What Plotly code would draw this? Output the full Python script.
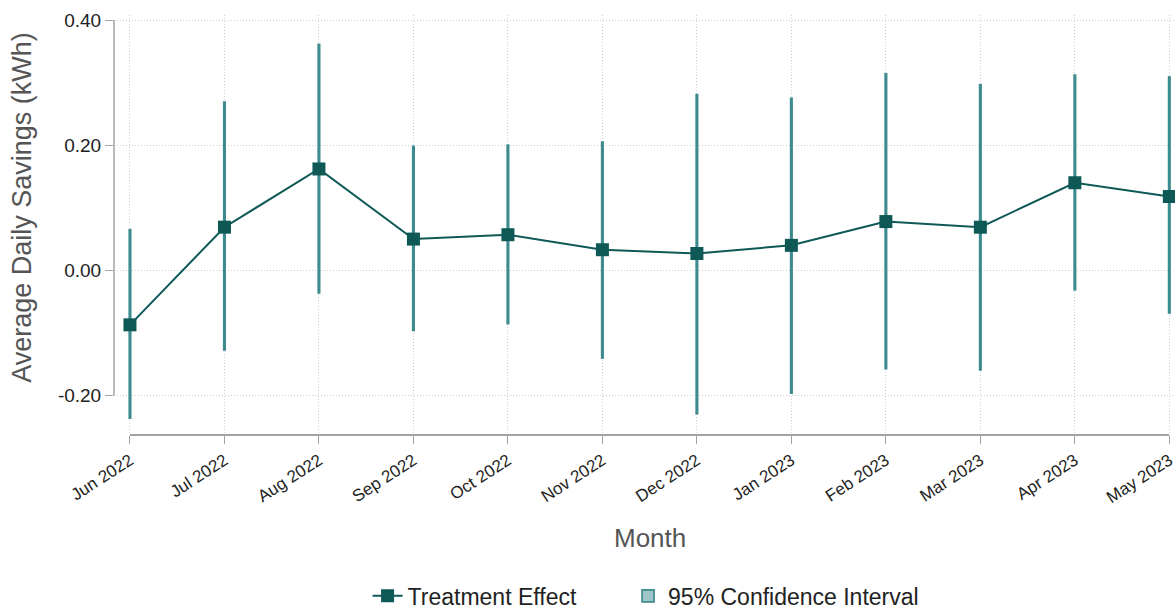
import plotly.graph_objects as go

# Monthly treatment effect estimates with 95% confidence bounds (kWh/day)
months = ["Jun 2022", "Jul 2022", "Aug 2022", "Sep 2022", "Oct 2022", "Nov 2022",
          "Dec 2022", "Jan 2023", "Feb 2023", "Mar 2023", "Apr 2023", "May 2023"]
effect = [-0.087, 0.069, 0.162, 0.050, 0.057, 0.033, 0.027, 0.040, 0.078, 0.069, 0.140, 0.118]
ci_low = [-0.236, -0.127, -0.036, -0.096, -0.085, -0.140, -0.229, -0.196, -0.157, -0.159, -0.031, -0.068]
ci_high = [0.065, 0.269, 0.361, 0.198, 0.200, 0.205, 0.281, 0.275, 0.314, 0.297, 0.312, 0.309]

y_ticks = [-0.2, 0.0, 0.2, 0.4]
y_ticktext = ["-0.20", "0.00", "0.20", "0.40"]

FONT = "Liberation Sans, Arial, sans-serif"
DARK = "#0e5956"
CI = "#3e8b8f"
AXIS = "#a3a3a3"
GRID = "#cfcfcf"

x = list(range(len(months)))

fig = go.Figure()

# Confidence intervals drawn as thin floating bars (outline gives the solid stroke)
fig.add_trace(go.Bar(
    x=x,
    y=[h - l for h, l in zip(ci_high, ci_low)],
    base=ci_low,
    width=0.015,
    marker=dict(color="rgba(62,139,143,0.5)", line=dict(color=CI, width=1.7)),
    name="95% Confidence Interval",
    legend="legend2",
    hoverinfo="skip",
))

# Point estimates
fig.add_trace(go.Scatter(
    x=x,
    y=effect,
    mode="lines+markers",
    line=dict(color=DARK, width=2),
    marker=dict(symbol="square", size=13, color=DARK),
    name="Treatment Effect",
    legend="legend",
    cliponaxis=False,
))

# Axis lines spanning only the labelled range
fig.add_shape(type="line", xref="paper", yref="y", x0=0, x1=0,
              y0=y_ticks[0], y1=y_ticks[-1], line=dict(color=AXIS, width=1.5))
fig.add_shape(type="line", xref="x", yref="paper", x0=x[0], x1=x[-1],
              y0=0, y1=0, line=dict(color=AXIS, width=2))

fig.add_annotation(text="Average Daily Savings (kWh)", textangle=-90,
                   xref="paper", x=0, xshift=-92, xanchor="center",
                   yref="y", y=(y_ticks[0] + y_ticks[-1]) / 2, yanchor="middle",
                   showarrow=False, font=dict(family=FONT, size=27, color="#555555"))
fig.add_annotation(text="Month",
                   xref="x", x=(x[0] + x[-1]) / 2, xanchor="center",
                   yref="paper", y=0, yshift=-103, yanchor="middle",
                   showarrow=False, font=dict(family=FONT, size=26, color="#555555"))

legend_style = dict(orientation="h", yanchor="middle", y=-0.383, xanchor="left",
                    font=dict(family=FONT, size=23, color="#222222"),
                    itemwidth=30, bgcolor="rgba(0,0,0,0)")

fig.update_layout(
    width=1175, height=611,
    margin=dict(l=114, r=0, t=15, b=176, autoexpand=False),
    paper_bgcolor="white", plot_bgcolor="white",
    font=dict(family=FONT, color="#222222"),
    showlegend=True,
    legend=dict(x=0.239, **legend_style),
    legend2=dict(x=0.4845, **legend_style),
    xaxis=dict(
        range=[-0.169, 11.06],
        tickvals=x, ticktext=months, tickangle=-33,
        ticks="outside", ticklen=8, tickcolor=AXIS, tickwidth=1.2,
        tickfont=dict(family=FONT, size=17, color="#222222"),
        ticklabeloverflow="allow",
        showgrid=True, gridcolor=GRID, griddash="1px,2px", gridwidth=1,
        showline=False, zeroline=False, fixedrange=True,
    ),
    yaxis=dict(
        range=[-0.263, 0.408],
        tickvals=y_ticks, ticktext=y_ticktext,
        ticks="outside", ticklen=8, tickcolor=AXIS, tickwidth=1.2,
        tickfont=dict(family=FONT, size=19, color="#222222"),
        showgrid=True, gridcolor=GRID, griddash="1px,2px", gridwidth=1,
        showline=False, zeroline=False, fixedrange=True,
    ),
)

fig.write_html("out.html")
